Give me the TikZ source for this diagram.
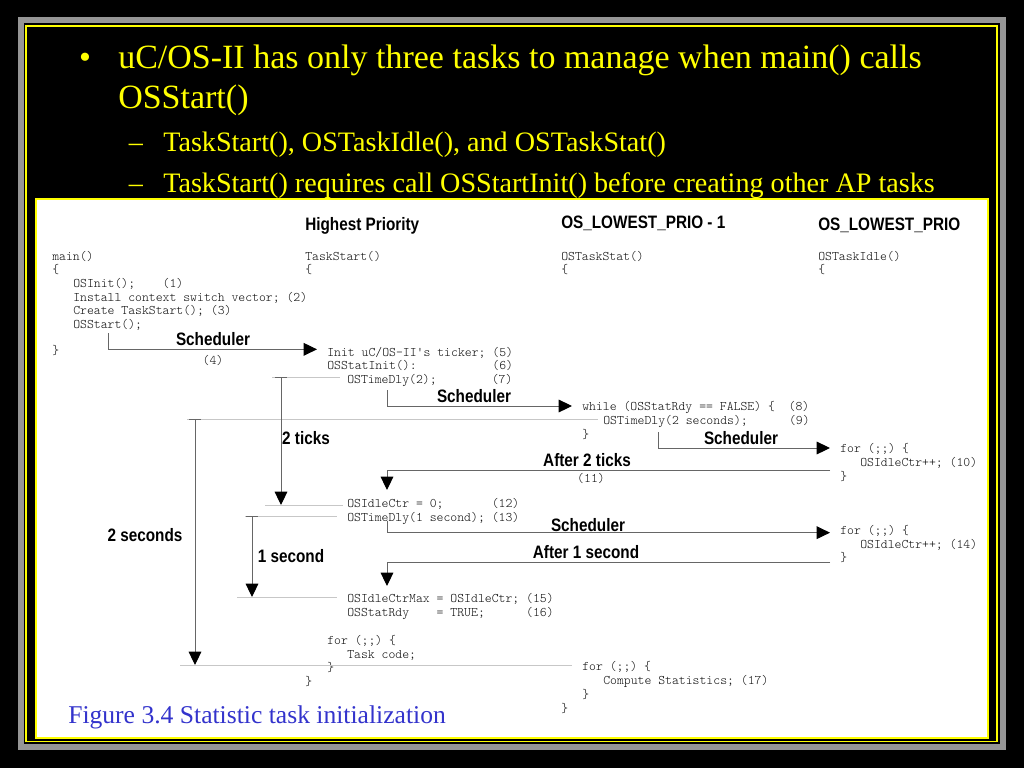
\documentclass[tikz,border=0pt]{standalone}
\usepackage{fontspec}
\setmainfont{Liberation Serif}
\newfontfamily\headfont[FakeStretch=0.85]{Liberation Sans}
\usetikzlibrary{arrows.meta}
\definecolor{slideyellow}{RGB}{255,255,0}
\definecolor{captionblue}{RGB}{51,51,204}
\definecolor{framegray}{RGB}{150,150,150}
\newcommand\codefont{\fontsize{9.83}{11}\ttfamily\fontseries{l}\selectfont}

\begin{document}
\begin{tikzpicture}[x=0.75pt,y=-0.75pt,
  >={Triangle[length=10pt,width=9.5pt,color=black]},
  slidetitle/.style={anchor=west,inner sep=0pt,text=slideyellow,font=\fontsize{25.5}{30}\selectfont,text height=16.9pt,text depth=0pt},
  subbullet/.style={slidetitle,font=\fontsize{21.1}{25}\selectfont,text height=14pt},
  codeline/.style={anchor=west,inner sep=0pt,font=\codefont,text=black!95,text height=6pt,text depth=0pt},
  colhead/.style={anchor=west,inner sep=0pt,font=\headfont\bfseries\fontsize{13.5}{16}\selectfont,text height=9.7pt,text depth=0pt},
  flowlabel/.style={colhead,anchor=center},
  tickline/.style={draw=black!22,line width=0.75pt},
  flow/.style={draw=black!60,line width=0.75pt,->},
  sched/.style={flow,shorten >=7.5pt},
  period/.style={flow,{Bar[width=9pt]}->}]
% Slide background and frame
\fill[black] (0,0) rectangle (1024,768);
\draw[framegray,line width=4.5pt] (21,20) rectangle (1003,746.5);
\draw[slideyellow,line width=1.1pt] (26,26) rectangle (997,741.5);

% Bullets
\node[slidetitle,anchor=center] (bul1) at (85,57) {•};
\node[slidetitle] (txt1) at (118,57) {uC/OS-II has only three tasks to manage when main() calls};
\node[slidetitle] (txt2) at (118,97) {OSStart()};
\node[subbullet,anchor=center] (bul2) at (136,142) {–};
\node[subbullet] (txt3) at (163,142) {TaskStart(), OSTaskIdle(), and OSTaskStat()};
\node[subbullet,anchor=center] (bul3) at (136,183) {–};
\node[subbullet] (txt4) at (163,183) {TaskStart() requires call OSStartInit() before creating other AP tasks};

% Figure area
\draw[slideyellow,fill=white,line width=1.5pt] (36,199) rectangle (988,738);

% Column heads
\node[colhead] (h1) at (305,224) {Highest Priority};
\node[colhead] (h2) at (561,222) {OS\_LOWEST\_PRIO - 1};
\node[colhead] (h3) at (818,224) {OS\_LOWEST\_PRIO};

% main()
\node[codeline] (m1) at (52,256) {main()};
\node[codeline] (m2) at (52,269) {\{};
\node[codeline] (m3) at (73,283) {OSInit();~~~~(1)};
\node[codeline] (m4) at (73,297) {Install context switch vector; (2)};
\node[codeline] (m5) at (73,310) {Create TaskStart(); (3)};
\node[codeline] (m6) at (73,324) {OSStart();};
\node[codeline] (m7) at (52,350) {\}};

% TaskStart()
\node[codeline] (t1) at (305,256) {TaskStart()};
\node[codeline] (t2) at (305,269) {\{};
\node[codeline] (t3) at (327,352) {Init uC/OS-II's ticker; (5)};
\node[codeline] (t4) at (327,365) {OSStatInit():~~~~~~~~~~~(6)};
\node[codeline] (t5) at (347,379) {OSTimeDly(2);~~~~~~~~(7)};
\node[codeline] (t6) at (347,503) {OSIdleCtr = 0;~~~~~~~(12)};
\node[codeline] (t7) at (347,517) {OSTimeDly(1 second); (13)};
\node[codeline] (t8) at (347,598) {OSIdleCtrMax = OSIdleCtr; (15)};
\node[codeline] (t9) at (347,612) {OSStatRdy~~~~= TRUE;~~~~~~(16)};
\node[codeline] (t10) at (327,640) {for (;;) \{};
\node[codeline] (t11) at (347,654) {Task code;};
\node[codeline] (t12) at (327,667) {\}};
\node[codeline] (t13) at (305,681) {\}};

% OSTaskStat()
\node[codeline] (s1) at (561,256) {OSTaskStat()};
\node[codeline] (s2) at (561,269) {\{};
\node[codeline] (s3) at (582,406) {while (OSStatRdy == FALSE) \{~~(8)};
\node[codeline] (s4) at (603,420) {OSTimeDly(2 seconds);~~~~~~(9)};
\node[codeline] (s5) at (582,434) {\}};
\node[codeline] (s6) at (582,666) {for (;;) \{};
\node[codeline] (s7) at (603,680) {Compute Statistics; (17)};
\node[codeline] (s8) at (582,694) {\}};
\node[codeline] (s9) at (561,708) {\}};

% OSTaskIdle()
\node[codeline] (i1) at (818,256) {OSTaskIdle()};
\node[codeline] (i2) at (818,269) {\{};
\node[codeline] (i3) at (840,448) {for (;;) \{};
\node[codeline] (i4) at (860,462) {OSIdleCtr++; (10)};
\node[codeline] (i5) at (840,476) {\}};
\node[codeline] (i6) at (840,530) {for (;;) \{};
\node[codeline] (i7) at (860,544) {OSIdleCtr++; (14)};
\node[codeline] (i8) at (840,557) {\}};

% Time marks
\draw[tickline] (272,377) -- (340,377);
\draw[tickline] (265,505) -- (343,505);
\draw[tickline] (187,419) -- (598,419);
\draw[tickline] (245,516) -- (337,516);
\draw[tickline] (237,597) -- (337,597);
\draw[tickline] (180,665) -- (572,665);

% Context switches
\coordinate (c4) at (108,333);
\coordinate (c7) at (387,390);
\coordinate (c9) at (658,432);
\coordinate (c13) at (387,521);
\draw[sched] (c4) |- ([yshift=2pt]t3.west);
\draw[sched] (c7) |- (s3.west);
\draw[sched] (c9) |- (i3.west);
\draw[sched] (c13) |- ([yshift=-2pt]i6.west);

\coordinate (a11) at (830,470);
\coordinate (d11) at (387,490);
\coordinate (a14) at (830,562);
\coordinate (d14) at (387,586);
\draw[flow] (a11) -| (d11);
\draw[flow] (a14) -| (d14);

% Delays
\draw[period] (281,377) -- (281,505);
\draw[period] (195,419) -- (195,665);
\draw[period] (252,516) -- (252,597);

% Labels
\node[flowlabel] (l1) at (213,339) {Scheduler};
\node[codeline,anchor=center] (n4) at (213,360) {(4)};
\node[flowlabel] (l2) at (474,396) {Scheduler};
\node[flowlabel] (l3) at (741,438) {Scheduler};
\node[flowlabel] (l4) at (588,525) {Scheduler};
\node[flowlabel] (l5) at (587,460) {After 2 ticks};
\node[codeline,anchor=center] (n11) at (591,478) {(11)};
\node[flowlabel] (l6) at (586,552) {After 1 second};
\node[flowlabel] (l7) at (306,438) {2 ticks};
\node[flowlabel] (l8) at (291,556) {1 second};
\node[flowlabel] (l9) at (145,535) {2 seconds};

% Caption
\node[anchor=west,inner sep=0pt,text=captionblue,font=\fontsize{19.2}{23}\selectfont,text height=12.7pt,text depth=0pt] (cap) at (68,715) {Figure 3.4 Statistic task initialization};
\end{tikzpicture}
\end{document}
